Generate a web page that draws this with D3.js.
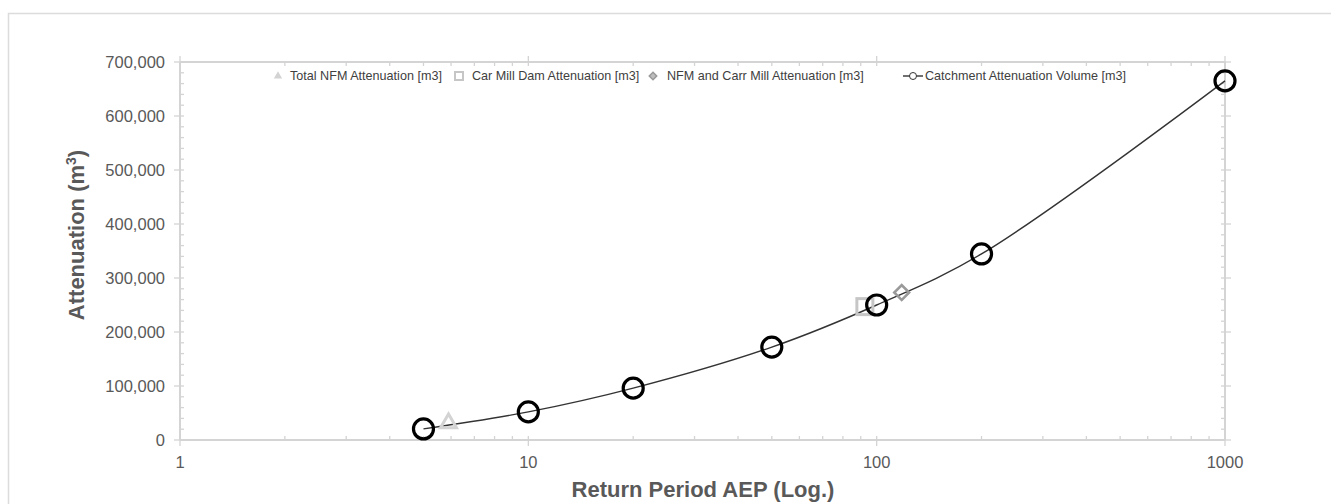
<!DOCTYPE html>
<html><head><meta charset="utf-8">
<script src="https://cdn.jsdelivr.net/npm/d3@7"></script>
<style>body{margin:0;background:#fff;} svg{display:block;font-family:"Liberation Sans",Arial,sans-serif;}</style>
</head><body>
<svg id="c" width="1331" height="504"></svg>
<script>
const returnPeriods = [5, 10, 20, 50, 100, 200, 1000];
const catchmentVolume = [20500, 52000, 96000, 172000, 250000, 344500, 665000];
const nfmPoint = [{x: 5.9, y: 31000}];
const carMillPoint = [{x: 92.5, y: 247000}];
const nfmCarrPoint = [{x: 118, y: 273000}];
const yTicks = [0, 100000, 200000, 300000, 400000, 500000, 600000, 700000];
const xTicks = [1, 10, 100, 1000];
const legendLabels = ["Total NFM Attenuation [m3]", "Car Mill Dam Attenuation [m3]", "NFM and Carr Mill Attenuation [m3]", "Catchment Attenuation Volume [m3]"];

const svg = d3.select("#c");
const L = 180, R = 1225, T = 62, B = 440;
const x = d3.scaleLog().domain([1, 1000]).range([L, R]);
const y = d3.scaleLinear().domain([0, 700000]).range([B, T]);
const axisCol = "#d4d4d4", txtCol = "#595959";

// outer frame
svg.append("path").attr("d", `M8.5,504 V13.5 H1331`).attr("fill", "none").attr("stroke", "#dcdcdc").attr("stroke-width", 1.5);

// minor ticks
const minorX = [];
for (let d = 1; d < 1000; d *= 10) for (let k = 2; k < 10; k++) minorX.push(d * k);
const minorY = d3.range(0, 700001, 20000).filter(v => v % 100000 !== 0);

const g = svg.append("g").attr("stroke", axisCol).attr("stroke-width", 1.3);
g.append("line").attr("x1", L).attr("x2", R).attr("y1", B).attr("y2", B).attr("stroke-width", 2);
g.append("line").attr("x1", L).attr("x2", R).attr("y1", T).attr("y2", T).attr("stroke-width", 2);
g.append("line").attr("x1", L).attr("x2", L).attr("y1", T).attr("y2", B).attr("stroke-width", 2);
g.append("line").attr("x1", R).attr("x2", R).attr("y1", T).attr("y2", B).attr("stroke-width", 2);
minorX.forEach(v => {
  g.append("line").attr("x1", x(v)).attr("x2", x(v)).attr("y1", B - 4).attr("y2", B);
  g.append("line").attr("x1", x(v)).attr("x2", x(v)).attr("y1", T).attr("y2", T + 4);
});
xTicks.forEach(v => {
  g.append("line").attr("x1", x(v)).attr("x2", x(v)).attr("y1", B - 4).attr("y2", B + 6);
  g.append("line").attr("x1", x(v)).attr("x2", x(v)).attr("y1", T - 6).attr("y2", T + 4);
});
minorY.forEach(v => {
  g.append("line").attr("x1", L).attr("x2", L + 4).attr("y1", y(v)).attr("y2", y(v));
  g.append("line").attr("x1", R - 4).attr("x2", R).attr("y1", y(v)).attr("y2", y(v));
});
yTicks.forEach(v => {
  g.append("line").attr("x1", L - 6).attr("x2", L + 4).attr("y1", y(v)).attr("y2", y(v));
  g.append("line").attr("x1", R - 4).attr("x2", R + 6).attr("y1", y(v)).attr("y2", y(v));
});

// tick labels
const fmt = d3.format(",");
svg.append("g").selectAll("text").data(yTicks).join("text")
  .attr("x", L - 15).attr("y", d => y(d)).attr("dy", "0.36em").attr("text-anchor", "end")
  .attr("fill", txtCol).attr("font-size", 16.5).text(d => fmt(d));
svg.append("g").selectAll("text").data(xTicks).join("text")
  .attr("x", d => x(d)).attr("y", B + 28).attr("text-anchor", "middle")
  .attr("fill", txtCol).attr("font-size", 16.5).text(d => d);

// axis titles
svg.append("text").attr("x", 703).attr("y", 497).attr("text-anchor", "middle")
  .attr("font-weight", "bold").attr("font-size", 22).attr("fill", txtCol).text("Return Period AEP (Log.)");
const yt = svg.append("text").attr("transform", `translate(84,235) rotate(-90)`).attr("text-anchor", "middle")
  .attr("font-weight", "bold").attr("font-size", 22).attr("fill", txtCol);
yt.append("tspan").text("Attenuation (m");
yt.append("tspan").attr("font-size", 14).attr("dy", -8).text("3");
yt.append("tspan").attr("dy", 8).text(")");

// line
const pts = returnPeriods.map((r, i) => [x(r), y(catchmentVolume[i])]);
svg.append("path").attr("d", d3.line().curve(d3.curveCatmullRom.alpha(0.5))(pts))
  .attr("fill", "none").attr("stroke", "#333").attr("stroke-width", 1.4);

// other series markers
const tri = d3.symbol().type(d3.symbolTriangle).size(110);
svg.append("g").selectAll("path").data(nfmPoint).join("path")
  .attr("transform", d => `translate(${x(d.x)},${y(d.y)})`).attr("d", tri)
  .attr("fill", "none").attr("stroke", "#d3d3d3").attr("stroke-width", 3);
svg.append("g").selectAll("rect").data(carMillPoint).join("rect")
  .attr("x", d => x(d.x) - 8).attr("y", d => y(d.y) - 8).attr("width", 16).attr("height", 16)
  .attr("fill", "none").attr("stroke", "#c6c6c6").attr("stroke-width", 3);
svg.append("g").selectAll("path").data(nfmCarrPoint).join("path")
  .attr("d", d3.symbol().type(d3.symbolSquare).size(110))
  .attr("transform", d => `translate(${x(d.x)},${y(d.y)}) rotate(45)`)
  .attr("fill", "none").attr("stroke", "#9a9a9a").attr("stroke-width", 2.6);

// catchment circles
svg.append("g").selectAll("circle").data(pts).join("circle")
  .attr("cx", d => d[0]).attr("cy", d => d[1]).attr("r", 10)
  .attr("fill", "none").attr("stroke", "#000").attr("stroke-width", 3.2);

// legend
const lg = svg.append("g").attr("font-size", 12.6).attr("fill", "#404040");
const ly = 76;
lg.append("path").attr("transform", `translate(278,${ly})`).attr("d", d3.symbol().type(d3.symbolTriangle).size(30)).attr("fill", "#d3d3d3");
lg.append("text").attr("x", 290).attr("y", ly).attr("dy", "0.35em").text(legendLabels[0]);
lg.append("rect").attr("x", 455).attr("y", ly - 4).attr("width", 8).attr("height", 8).attr("fill", "none").attr("stroke", "#c6c6c6").attr("stroke-width", 2);
lg.append("text").attr("x", 472).attr("y", ly).attr("dy", "0.35em").text(legendLabels[1]);
lg.append("path").attr("transform", `translate(653,${ly}) rotate(45)`).attr("d", d3.symbol().type(d3.symbolSquare).size(28)).attr("fill", "#bdbdbd").attr("stroke", "#9a9a9a").attr("stroke-width", 1.5);
lg.append("text").attr("x", 667).attr("y", ly).attr("dy", "0.35em").text(legendLabels[2]);
lg.append("line").attr("x1", 903).attr("x2", 923).attr("y1", ly).attr("y2", ly).attr("stroke", "#333").attr("stroke-width", 1.4);
lg.append("circle").attr("cx", 913).attr("cy", ly).attr("r", 3.5).attr("fill", "#fff").attr("stroke", "#333").attr("stroke-width", 1);
lg.append("text").attr("x", 925).attr("y", ly).attr("dy", "0.35em").text(legendLabels[3]);
</script>
</body></html>
